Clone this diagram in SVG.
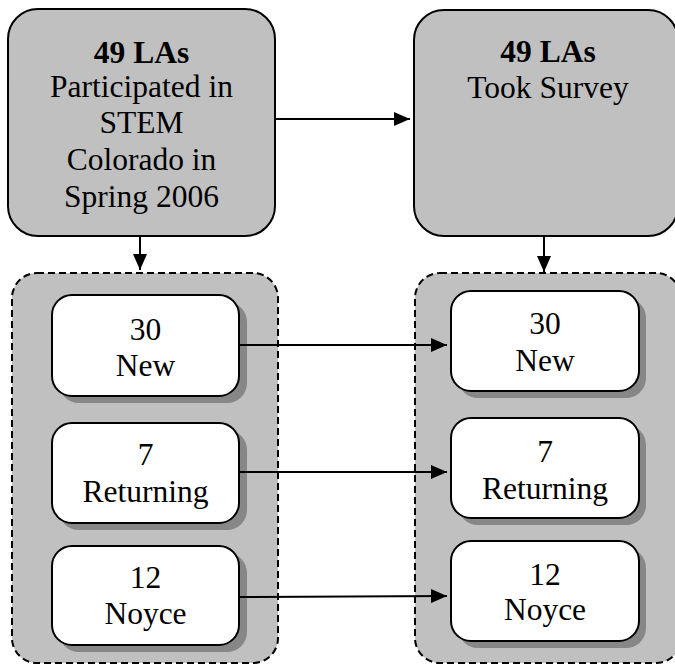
<svg xmlns="http://www.w3.org/2000/svg" width="675" height="664" viewBox="0 0 675 664">
<style>
.top{fill:#c0c0c0;stroke:#000;stroke-width:2}
.grp{fill:#c0c0c0;stroke:#000;stroke-width:2;stroke-dasharray:7,4}
.box{fill:#fff;stroke:#000;stroke-width:2}
.sh{fill:#878787}
.c{stroke:#000;stroke-width:2;fill:none}
text{font-family:"Liberation Serif","Times New Roman",serif;font-size:31.5px;text-anchor:middle;fill:#000}
.b{font-weight:bold}
</style>
<defs>
<marker id="ah" markerWidth="16" markerHeight="14" refX="16" refY="7" orient="auto" markerUnits="userSpaceOnUse">
<path d="M0,0 L16,7 L0,14 Z" fill="#000"/>
</marker>
</defs>
<g id="src">
<rect class="top" x="8" y="9" width="267" height="227" rx="30"/>
<text x="141.5" y="63" class="b">49 LAs</text>
<text x="141.5" y="97">Participated in</text>
<text x="141.5" y="133">STEM</text>
<text x="141.5" y="170">Colorado in</text>
<text x="141.5" y="207">Spring 2006</text>
</g>
<g id="survey">
<rect class="top" x="414" y="10" width="264" height="226" rx="30"/>
<text x="548" y="62" class="b">49 LAs</text>
<text x="548" y="98">Took Survey</text>
</g>
<g id="leftgroup">
<rect class="grp" x="12" y="273" width="266" height="390" rx="25"/>
</g>
<g id="rightgroup">
<rect class="grp" x="415" y="273" width="266" height="390" rx="25"/>
</g>
<g id="l-new">
<rect class="sh" x="59" y="302" width="188" height="101" rx="20"/>
<rect class="box" x="52" y="295" width="187" height="101" rx="20"/>
<text x="145.5" y="340">30</text>
<text x="145.5" y="376">New</text>
</g>
<g id="l-ret">
<rect class="sh" x="59" y="430" width="188" height="100" rx="20"/>
<rect class="box" x="52" y="423" width="187" height="100" rx="20"/>
<text x="145.5" y="465">7</text>
<text x="145.5" y="502">Returning</text>
</g>
<g id="l-noy">
<rect class="sh" x="59" y="553" width="188" height="99" rx="20"/>
<rect class="box" x="52" y="546" width="187" height="99" rx="20"/>
<text x="145.5" y="588">12</text>
<text x="145.5" y="624">Noyce</text>
</g>
<g id="r-new">
<rect class="sh" x="458" y="298" width="188" height="100" rx="20"/>
<rect class="box" x="451" y="291" width="188" height="100" rx="20"/>
<text x="545" y="334">30</text>
<text x="545" y="371">New</text>
</g>
<g id="r-ret">
<rect class="sh" x="458" y="425" width="188" height="100" rx="20"/>
<rect class="box" x="451" y="418" width="188" height="100" rx="20"/>
<text x="545" y="462">7</text>
<text x="545" y="499">Returning</text>
</g>
<g id="r-noy">
<rect class="sh" x="458" y="548" width="188" height="100" rx="20"/>
<rect class="box" x="451" y="541" width="188" height="100" rx="20"/>
<text x="545" y="585">12</text>
<text x="545" y="620">Noyce</text>
</g>
<g id="connectors">
<line class="c" x1="275" y1="119" x2="410" y2="119" marker-end="url(#ah)"/>
<line class="c" x1="140" y1="236" x2="140" y2="270" marker-end="url(#ah)"/>
<line class="c" x1="544" y1="236" x2="544" y2="272" marker-end="url(#ah)"/>
<line class="c" x1="239" y1="345" x2="447" y2="345" marker-end="url(#ah)"/>
<line class="c" x1="239" y1="472" x2="447" y2="472" marker-end="url(#ah)"/>
<line class="c" x1="239" y1="597" x2="447" y2="596" marker-end="url(#ah)"/>
</g>
</svg>
